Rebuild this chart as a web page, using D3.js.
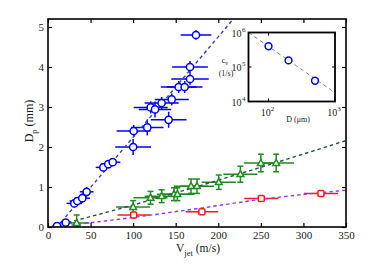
<!DOCTYPE html>
<html><head><meta charset="utf-8">
<script src="https://cdn.jsdelivr.net/npm/d3@7"></script>
<style>
body{margin:0;background:#fff}
svg{display:block}
text{font-family:"Liberation Serif","Times New Roman",serif;fill:#1a1a1a}
</style>
</head><body>
<svg id="chart" width="374" height="270"></svg>
<script>
// ---------- data ----------
const xTicks = [0, 50, 100, 150, 200, 250, 300, 350];
const yTicks = [0, 1, 2, 3, 4, 5];

// blue circles
const blueV    = [10.6, 20.8, 30.9, 34.4, 40.3, 45.4, 65, 70.8, 76, 100, 100.6, 116.6, 120.6, 125.7, 133.5, 141.7, 145.3, 153.5, 160.5, 166.8, 166.8, 173.8];
const blueD    = [0.02, 0.11, 0.59, 0.65, 0.72, 0.88, 1.49, 1.57, 1.62, 2.0, 2.4, 2.49, 2.99, 2.94, 3.1, 2.68, 3.19, 3.5, 3.5, 3.7, 4.0, 4.8];
const blueVErr = [6, 7, 9, 9, 9, 8, 9, 9, 9, 21, 20, 19, 20, 19, 20, 21, 20, 21, 21, 22, 21, 18];
const blueDErr = [0.05, 0.08, 0.1, 0.1, 0.12, 0.12, 0.1, 0.1, 0.1, 0.2, 0.15, 0.2, 0.15, 0.2, 0.15, 0.2, 0.15, 0.15, 0.15, 0.15, 0.15, 0.12];

// green triangles
const greenV    = [33.7, 100, 120.4, 133.5, 148, 152, 168, 175, 200.6, 226, 250, 268];
const greenD    = [0.1, 0.5, 0.73, 0.77, 0.82, 0.82, 1.02, 1.02, 1.12, 1.32, 1.6, 1.6];
const greenVErr = [15, 20, 20, 20, 20, 20, 20, 20, 20, 20, 20, 21];
const greenDErr = [0.2, 0.16, 0.16, 0.16, 0.16, 0.16, 0.18, 0.18, 0.18, 0.2, 0.22, 0.22];

// red squares
const redV    = [100.6, 180.8, 250.5, 320.6];
const redD    = [0.3, 0.38, 0.71, 0.84];
const redVErr = [19, 19, 20, 20];
const redDErr = [0.1, 0.08, 0.08, 0.08];

// dashed fit lines
const fitBlueV   = [10.6, 217.7];
const fitBlueD   = [0.0, 5.2];
const fitGreenV  = [16, 100, 200, 350];
const fitGreenD  = [0.07, 0.55, 1.17, 2.16];
const fitPurpleV = [20, 100, 178.6, 250, 350];
const fitPurpleD = [0.03, 0.24, 0.47, 0.69, 0.92];

// inset
const insetD = [100, 200, 500];
const insetC = [4.0e5, 1.55e5, 4.0e4];
const insetFitD = [50, 1000];
const insetFitC = [1.0e6, 1.8e4];
const insetXTicks = [100, 1000];
const insetXExp = ["2", "3"];
const insetYTicks = [1e4, 1e5, 1e6];
const insetYExp = ["4", "5", "6"];

// ---------- layout ----------
const svg = d3.select("#chart");
const L = 48, R = 346, T = 19, B = 227;
const x = d3.scaleLinear().domain([0, 350]).range([L, R]);
const y = d3.scaleLinear().domain([0, 5.2]).range([B, T]);

const BLUE = "#0000ff", GREEN = "#1e8c1e", RED = "#ff1a1a";

svg.append("rect").attr("x", L).attr("y", T).attr("width", R - L).attr("height", B - T).attr("fill", "#fff");

const clip = svg.append("clipPath").attr("id", "pc");
clip.append("rect").attr("x", L).attr("y", T).attr("width", R - L).attr("height", B - T);
const g = svg.append("g").attr("clip-path", "url(#pc)");

const line = d3.line().x(d => x(d[0])).y(d => y(d[1]));
function fit(vs, ds, color, dash) {
  g.append("path").datum(vs.map((v, i) => [v, ds[i]]))
    .attr("d", line.curve(d3.curveMonotoneX))
    .attr("fill", "none").attr("stroke", color).attr("stroke-width", 1.4)
    .attr("stroke-dasharray", dash);
}

function errs(vs, ds, ve, de, color, cap) {
  const gg = g.append("g").attr("stroke", color).attr("stroke-width", 1.5).attr("fill", "none");
  vs.forEach((v, i) => {
    gg.append("line").attr("x1", x(v - ve[i])).attr("x2", x(v + ve[i])).attr("y1", y(ds[i])).attr("y2", y(ds[i]));
    gg.append("line").attr("x1", x(v)).attr("x2", x(v)).attr("y1", y(ds[i] - de[i])).attr("y2", y(ds[i] + de[i]));
    if (cap) {
      [ds[i] - de[i], ds[i] + de[i]].forEach(dd => {
        gg.append("line").attr("x1", x(v) - 3).attr("x2", x(v) + 3).attr("y1", y(dd)).attr("y2", y(dd));
      });
    }
  });
}

errs(blueV, blueD, blueVErr, blueDErr, BLUE, false);
errs(greenV, greenD, greenVErr, greenDErr, GREEN, true);
errs(redV, redD, redVErr, redDErr, RED, false);

fit(fitBlueV, fitBlueD, "#2b48a8", "3.5,3");
fit(fitGreenV, fitGreenD, "#2f4f4f", "3.5,3");
fit(fitPurpleV, fitPurpleD, "#9933ff", "3.5,3");

// markers
g.append("g").selectAll("circle").data(blueV).join("circle")
  .attr("cx", d => x(d)).attr("cy", (d, i) => y(blueD[i])).attr("r", 3.6)
  .attr("fill", "#fff").attr("stroke", BLUE).attr("stroke-width", 1.5);

g.append("g").selectAll("path").data(greenV).join("path")
  .attr("transform", (d, i) => `translate(${x(d)},${y(greenD[i])})`)
  .attr("d", "M0,-3.6L3.4,2.4L-3.4,2.4Z")
  .attr("fill", "#fff").attr("stroke", GREEN).attr("stroke-width", 1.5);

g.append("g").selectAll("rect").data(redV).join("rect")
  .attr("x", d => x(d) - 3).attr("y", (d, i) => y(redD[i]) - 3)
  .attr("width", 6).attr("height", 6).attr("rx", 1.2)
  .attr("fill", "#fff").attr("stroke", RED).attr("stroke-width", 1.5);

// axes with inward ticks on all sides
const fmt = d3.format("d");
const ax = svg.append("g");
ax.append("g").attr("transform", `translate(0,${B})`)
  .call(d3.axisBottom(x).tickValues(xTicks).tickFormat(fmt).tickSizeInner(-4).tickSizeOuter(0).tickPadding(4))
  .call(s => s.select(".domain").remove())
  .call(s => s.selectAll("text").attr("font-size", 11).attr("font-family", "Liberation Serif").attr("fill", "#1a1a1a"));
ax.append("g").attr("transform", `translate(0,${T})`)
  .call(d3.axisTop(x).tickValues(xTicks).tickSizeInner(-4).tickSizeOuter(0).tickFormat(""))
  .call(s => s.select(".domain").remove());
ax.append("g").attr("transform", `translate(${L},0)`)
  .call(d3.axisLeft(y).tickValues(yTicks).tickFormat(fmt).tickSizeInner(-4).tickSizeOuter(0).tickPadding(4))
  .call(s => s.select(".domain").remove())
  .call(s => s.selectAll("text").attr("font-size", 11).attr("font-family", "Liberation Serif").attr("fill", "#1a1a1a"));
ax.append("g").attr("transform", `translate(${R},0)`)
  .call(d3.axisRight(y).tickValues(yTicks).tickSizeInner(-4).tickSizeOuter(0).tickFormat(""))
  .call(s => s.select(".domain").remove());
ax.selectAll(".tick line").attr("stroke", "#000").attr("stroke-width", 1.2);
svg.append("rect").attr("x", L).attr("y", T).attr("width", R - L).attr("height", B - T)
  .attr("fill", "none").attr("stroke", "#000").attr("stroke-width", 1.6);

// axis labels
const xl = svg.append("text").attr("x", 198).attr("y", 251.5).attr("text-anchor", "middle").attr("font-size", 11.5);
xl.append("tspan").text("V");
xl.append("tspan").attr("font-size", 8.5).attr("dy", 4).text("jet");
xl.append("tspan").attr("dy", -4).text(" (m/s)");

const yl = svg.append("text").attr("transform", "translate(33,121) rotate(-90)").attr("text-anchor", "middle").attr("font-size", 12);
yl.append("tspan").text("D");
yl.append("tspan").attr("font-size", 8.5).attr("dy", 4).text("p");
yl.append("tspan").attr("dy", -4).text(" (mm)");

// ---------- inset ----------
const iL = 248.5, iR = 335, iT = 32.5, iB = 101.5;
const ix = d3.scaleLog().domain([50, 1000]).range([iL, iR]);
const iy = d3.scaleLog().domain([1e4, 1e6]).range([iB, iT]);
const ig = svg.append("g");
ig.append("rect").attr("x", iL).attr("y", iT).attr("width", iR - iL).attr("height", iB - iT).attr("fill", "#fff");
ig.append("path").datum(insetFitD.map((d, i) => [d, insetFitC[i]]))
  .attr("d", d3.line().x(d => ix(d[0])).y(d => iy(d[1])))
  .attr("fill", "none").attr("stroke", "#777").attr("stroke-width", 0.9).attr("stroke-dasharray", "4,3");
ig.selectAll("circle").data(insetD).join("circle")
  .attr("cx", d => ix(d)).attr("cy", (d, i) => iy(insetC[i])).attr("r", 3.4)
  .attr("fill", "#fff").attr("stroke", BLUE).attr("stroke-width", 1.5);
insetXTicks.forEach(t => {
  ig.append("line").attr("x1", ix(t)).attr("x2", ix(t)).attr("y1", iB).attr("y2", iB - 3).attr("stroke", "#000");
  ig.append("line").attr("x1", ix(t)).attr("x2", ix(t)).attr("y1", iT).attr("y2", iT + 3).attr("stroke", "#000");
});
insetYTicks.forEach(t => {
  ig.append("line").attr("x1", iL).attr("x2", iL + 3).attr("y1", iy(t)).attr("y2", iy(t)).attr("stroke", "#000");
  ig.append("line").attr("x1", iR).attr("x2", iR - 3).attr("y1", iy(t)).attr("y2", iy(t)).attr("stroke", "#000");
});
ig.append("rect").attr("x", iL).attr("y", iT).attr("width", iR - iL).attr("height", iB - iT)
  .attr("fill", "none").attr("stroke", "#000").attr("stroke-width", 1.8);

insetXTicks.forEach((t, i) => {
  const tx = ig.append("text").attr("x", ix(t) - 1).attr("y", 116).attr("text-anchor", "middle").attr("font-size", 10);
  tx.append("tspan").text("10");
  tx.append("tspan").attr("font-size", 7).attr("dy", -5).text(insetXExp[i]);
});
insetYTicks.forEach((t, i) => {
  ig.append("text").attr("x", iL - 7).attr("y", iy(t) + 4).attr("text-anchor", "end").attr("font-size", 10).text("10");
  ig.append("text").attr("x", iL - 6.5).attr("y", iy(t) - 1).attr("font-size", 7).text(insetYExp[i]);
});
ig.append("text").attr("x", 298).attr("y", 122).attr("text-anchor", "middle").attr("font-size", 8).text("D (\u03bcm)");
const cl = ig.append("text").attr("x", 225).attr("y", 63).attr("text-anchor", "middle").attr("font-size", 8);
cl.append("tspan").text("c");
cl.append("tspan").attr("font-size", 6).attr("dy", 2).text("v");
ig.append("text").attr("x", 226).attr("y", 76).attr("text-anchor", "middle").attr("font-size", 8).text("(1/s)");
</script>
</body></html>
